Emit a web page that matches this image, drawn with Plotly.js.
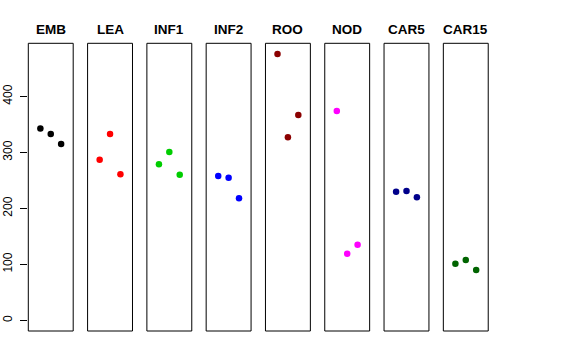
<!DOCTYPE html>
<html>
<head>
<meta charset="utf-8">
<script src="https://cdn.plot.ly/plotly-3.0.1.min.js"></script>
<style>html,body{margin:0;padding:0;background:#fff;}#chart{width:576px;height:360px;}</style>
</head>
<body>
<div id="chart"></div>
<script>
// ---- data ----
const groups = ['EMB', 'LEA', 'INF1', 'INF2', 'ROO', 'NOD', 'CAR5', 'CAR15'];
const colors = ['#000000', '#FF0000', '#00CD00', '#0000FF', '#8B0000', '#FF00FF', '#00008B', '#006400'];
const replicate = [1, 2, 3];
const EMB   = [343, 333, 315];
const LEA   = [287, 333, 261];
const INF1  = [279, 301, 260];
const INF2  = [258, 255, 218];
const ROO   = [476, 327, 367];
const NOD   = [374, 119, 135];
const CAR5  = [230, 231, 220];
const CAR15 = [101, 108, 90];
const values = [EMB, LEA, INF1, INF2, ROO, NOD, CAR5, CAR15];
const yTicks = [0, 100, 200, 300, 400];

// ---- layout ----
const W = 576, H = 360;
const left0 = 28.3, step = 59.29, pw = 44.9;
const plotTop = 43.3, plotBottom = 331;
const ymax = Math.max(...values.flat());
const yRange = [-0.04 * ymax, ymax * 1.04];

const traces = [];
const layout = {
  width: W, height: H,
  margin: {l: 0, r: 0, t: 0, b: 0, pad: 0},
  paper_bgcolor: '#ffffff', plot_bgcolor: '#ffffff',
  showlegend: false,
  font: {family: 'Liberation Sans, Arial, sans-serif', color: '#000000'},
  shapes: [], annotations: [],
  yaxis: {
    domain: [1 - plotBottom / H, 1 - plotTop / H],
    range: yRange,
    anchor: 'x',
    showgrid: false, zeroline: false, showline: false,
    tickmode: 'array', tickvals: yTicks, ticktext: yTicks.map(String),
    ticks: 'outside', ticklen: 7, tickwidth: 1, tickcolor: '#000000',
    tickangle: -90, ticklabelstandoff: 4,
    tickfont: {size: 12, color: '#000000', family: 'Liberation Sans, Arial, sans-serif'}
  }
};

groups.forEach((g, i) => {
  const n = i + 1;
  const xa = n === 1 ? 'x' : 'x' + n;
  const x0 = left0 + i * step;
  layout[n === 1 ? 'xaxis' : 'xaxis' + n] = {
    domain: [x0 / W, (x0 + pw) / W],
    range: [-0.16, 4.16],
    anchor: 'y',
    showgrid: false, zeroline: false, showline: false,
    showticklabels: false, ticks: ''
  };
  traces.push({
    type: 'scatter', mode: 'markers',
    x: replicate, y: values[i],
    xaxis: xa, yaxis: 'y',
    marker: {color: colors[i], size: 6.5, line: {width: 0}},
    name: g, hoverinfo: 'skip'
  });
  layout.shapes.push({
    type: 'rect', xref: xa + ' domain', yref: 'y domain',
    x0: 0, x1: 1, y0: 0, y1: 1,
    line: {color: '#000000', width: 1}, fillcolor: 'rgba(0,0,0,0)'
  });
  layout.annotations.push({
    text: g, showarrow: false,
    xref: xa + ' domain', x: 0.5, xanchor: 'center',
    yref: 'paper', y: 1 - 29.5 / H, yanchor: 'middle',
    font: {size: 13.5, weight: 'bold', color: '#000000', family: 'Liberation Sans, Arial, sans-serif'}
  });
});

Plotly.newPlot('chart', traces, layout, {staticPlot: true, displayModeBar: false});
</script>
</body>
</html>
